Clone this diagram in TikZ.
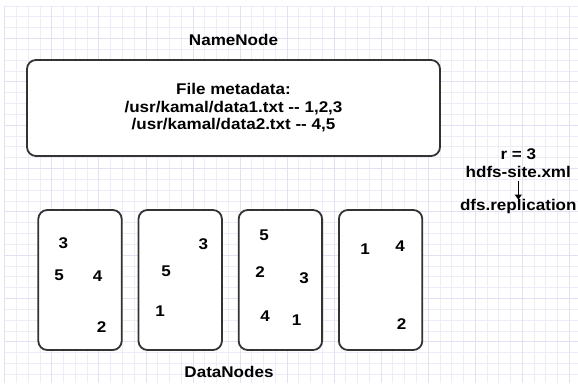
\documentclass[tikz,border=0pt]{standalone}
\usepackage{fontspec}
\setmainfont[FakeStretch=1.1,Ligatures=TeXOff]{Liberation Sans}
\usetikzlibrary{positioning,arrows.meta}
\definecolor{gridminor}{RGB}{237,237,248}
\definecolor{gridmajor}{RGB}{225,225,243}
\definecolor{edgegray}{RGB}{51,51,51}

\begin{document}
\begin{tikzpicture}[x=1pt,y=-1pt,node distance=100.2pt,on grid,
  every node/.style={font=\bfseries\fontsize{15.5}{17.5}\selectfont,inner sep=0pt},
  box/.style={draw=edgegray,line width=1.8pt,rounded corners=9pt,fill=white},
  datanode/.style={box,minimum width=83.4pt,minimum height=140pt}]
  \useasboundingbox[fill=white] (0,0) rectangle (578,383);
  % background grid
  \foreach \i in {0,...,48}
    \draw[gridminor,line width=0.8pt] (4.8+11.76*\i,6) -- (4.8+11.76*\i,383);
  \foreach \j in {0,...,34}
    \draw[gridminor,line width=0.8pt] (4.8,6+10.83*\j) -- (578,6+10.83*\j);
  \foreach \i in {0,4,...,48}
    \draw[gridmajor,line width=0.8pt] (4.8+11.76*\i,6) -- (4.8+11.76*\i,383);
  \foreach \j in {3,7,...,31}
    \draw[gridmajor,line width=0.8pt] (4.8,6+10.83*\j) -- (578,6+10.83*\j);

  \node[box,minimum width=413pt,minimum height=96pt,align=center] (meta) at (233.5,108)
    {File metadata:\\/usr/kamal/data1.txt -- 1,2,3\\/usr/kamal/data2.txt -- 4,5};
  \node (nnlabel) [above=68pt of meta] {NameNode};

  \node[datanode] (dn1) at (80,280) {};
  \node[datanode] (dn2) [right=of dn1] {};
  \node[datanode] (dn3) [right=of dn2] {};
  \node[datanode] (dn4) [right=of dn3] {};
  \node (dnlabel) at (229,372) {DataNodes};

  % blocks held by each DataNode
  \node (b1n3) at (63.3,243.3) {3};
  \node (b1n5) at (59,275) {5};
  \node (b1n4) at (97.7,276) {4};
  \node (b1n2) at (101.7,326.7) {2};
  \node (b2n3) at (203.3,244) {3};
  \node (b2n5) at (166,271) {5};
  \node (b2n1) at (160,310.7) {1};
  \node (b3n5) at (264,235) {5};
  \node (b3n2) at (260,272.3) {2};
  \node (b3n3) at (304,278.3) {3};
  \node (b3n4) at (265,315.7) {4};
  \node (b3n1) at (296.7,320) {1};
  \node (b4n1) at (365,249) {1};
  \node (b4n4) at (400,245.7) {4};
  \node (b4n2) at (401.7,324.3) {2};

  % replication factor
  \node (rval) at (518.3,154) {r = 3};
  \node (site) [below=17.7pt of rval] {hdfs-site.xml};
  \node (repl) at (518.3,206) {dfs.replication};
  \draw[-{Triangle[width=7pt,length=5pt]},line width=1pt,black,shorten <=3pt,shorten >=-1pt]
    (site) -- (repl);
\end{tikzpicture}
\end{document}
